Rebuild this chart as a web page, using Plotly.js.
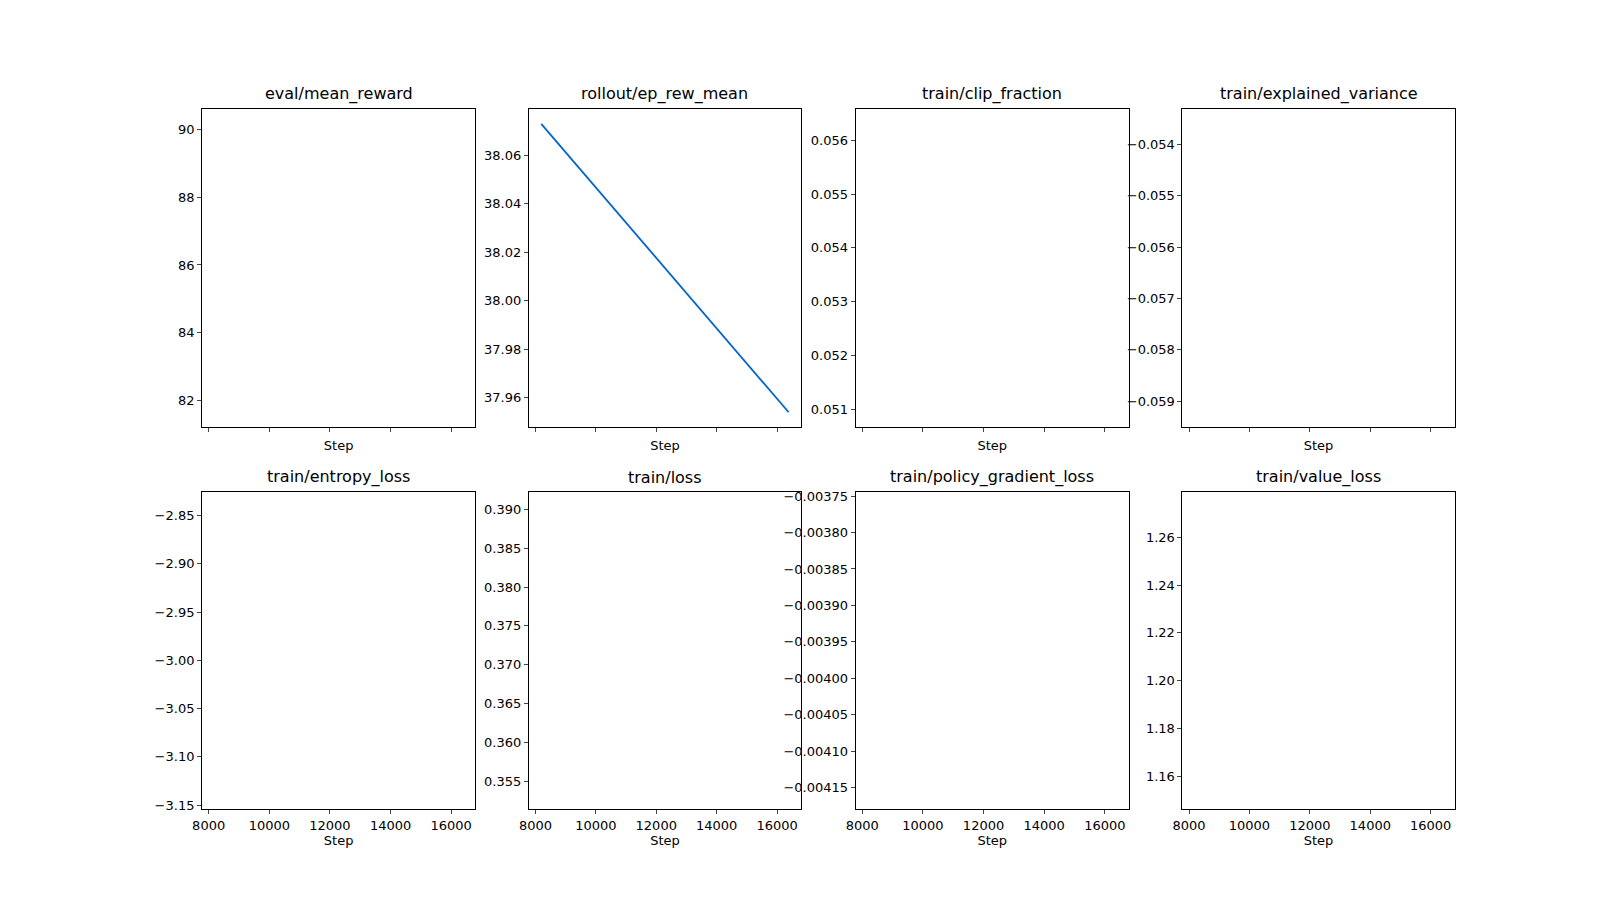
<!DOCTYPE html>
<html>
<head>
<meta charset="utf-8">
<script src="https://cdn.plot.ly/plotly-3.0.1.min.js"></script>
<style>body{margin:0;background:#fff}#plot{width:1600px;height:900px}</style>
</head>
<body>
<div id="plot"></div>
<script>
// metric names, in panel order
var names = ["eval/mean_reward", "rollout/ep_rew_mean", "train/clip_fraction", "train/explained_variance",
  "train/entropy_loss", "train/loss", "train/policy_gradient_loss", "train/value_loss"];
// logged steps and values per metric
var steps = [[8192], [8192, 16384], [8192], [8192], [8192], [8192], [8192], [8192]];
var values = [[85.91], [38.073, 37.954], [0.053625], [-0.05641], [-2.99], [0.3718], [-0.00396], [1.2126]];
// y ranges and tick settings
var yRanges = [[81.21, 90.61], [37.948, 38.079], [0.050674, 0.056575], [-0.059502, -0.053317],
  [-3.1543, -2.8254], [0.35142, 0.39225], [-0.00418, -0.003744], [1.1462, 1.279]];
var yDticks = [2, 0.02, 0.001, 0.001, 0.05, 0.005, 0.00005, 0.02];
var yFormats = ["d", ".2f", ".3f", ".3f", ".2f", ".3f", ".5f", ".2f"];
var xRange = [7782, 16794];

// panel edges measured on a 1552x873 view of the reference
var W = 1552, H = 873;
var colLeft = [196, 513, 830, 1147], colRight = [461, 777, 1095, 1411];
var rowTop = [106, 477], rowBottom = [414, 785];

var traces = [], annotations = [];
var layout = {
  width: 1600, height: 900, margin: {l: 0, r: 0, t: 0, b: 0},
  paper_bgcolor: "#fff", plot_bgcolor: "#fff", showlegend: false,
  font: {family: "DejaVu Sans", size: 13, color: "#000"}
};

for (var i = 0; i < 8; i++) {
  var c = i % 4, r = Math.floor(i / 4), n = i + 1;
  var sfx = n === 1 ? "" : n;
  traces.push({
    x: steps[i], y: values[i], type: "scatter", mode: "lines",
    line: {color: "#0066cc", width: 1.8},
    xaxis: "x" + sfx, yaxis: "y" + sfx
  });
  layout["xaxis" + sfx] = {
    domain: [colLeft[c] / W, colRight[c] / W], anchor: "y" + sfx,
    range: xRange, tick0: 8000, dtick: 2000, tickformat: "d", ticks: "outside", ticklen: 4,
    showticklabels: r === 1, showgrid: false, zeroline: false,
    showline: true, mirror: true, linecolor: "#000", linewidth: 1,
    title: {text: "Step", font: {size: 13}, standoff: r === 1 ? 3 : 10}
  };
  layout["yaxis" + sfx] = {
    domain: [1 - rowBottom[r] / H, 1 - rowTop[r] / H], anchor: "x" + sfx,
    range: yRanges[i], dtick: yDticks[i], tickformat: yFormats[i],
    ticks: "outside", ticklen: 4, showgrid: false, zeroline: false,
    showline: true, mirror: true, linecolor: "#000", linewidth: 1
  };
  annotations.push({
    text: names[i], xref: "paper", yref: "paper", showarrow: false,
    x: (colLeft[c] + colRight[c]) / 2 / W, y: 1 - rowTop[r] / H,
    xanchor: "center", yanchor: "bottom", yshift: 3, font: {size: 16}
  });
}
layout.annotations = annotations;

Plotly.newPlot("plot", traces, layout, {displayModeBar: false, staticPlot: true});
</script>
</body>
</html>
